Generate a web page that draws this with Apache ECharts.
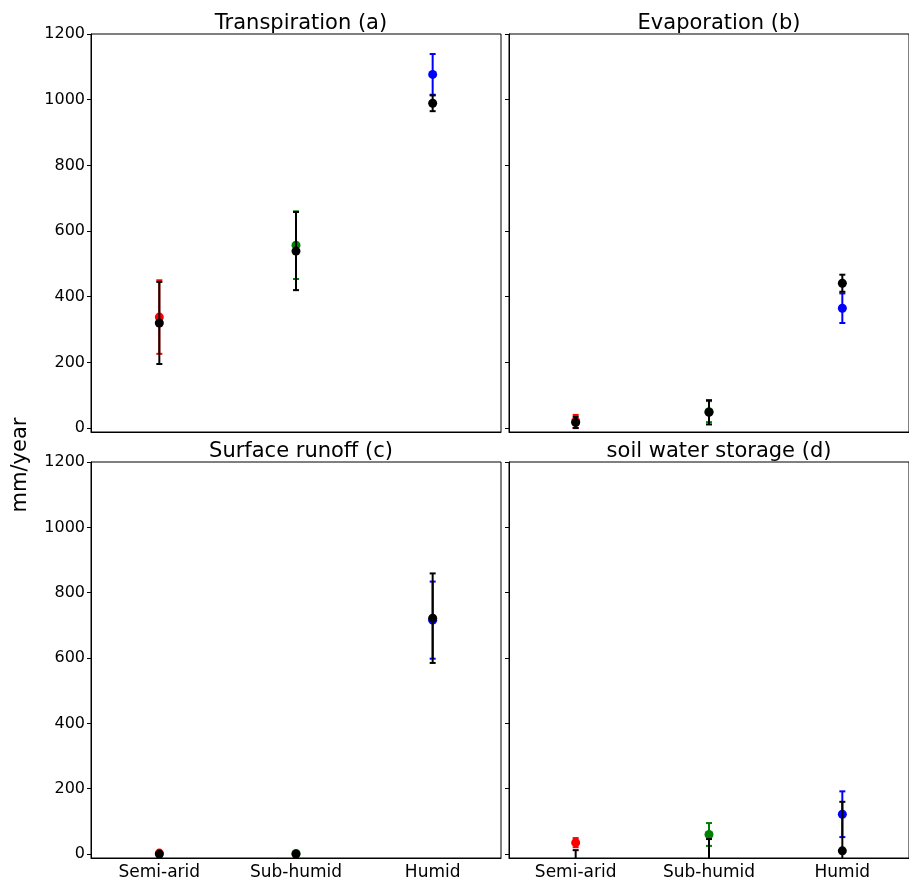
<!DOCTYPE html>
<html><head><meta charset="utf-8">
<script src="https://cdn.jsdelivr.net/npm/echarts@6/dist/echarts.min.js"></script>
<style>html,body{margin:0;padding:0;background:#fff}#c{width:909px;height:881px}</style>
</head><body><div id="c"></div>
<script>
const categories = ['Semi-arid', 'Sub-humid', 'Humid'];
const catColors = ['#ff0000', '#008000', '#0000ff'];
const yTicks = [0, 200, 400, 600, 800, 1000, 1200];
const panelTitles = ['Transpiration (a)', 'Evaporation (b)', 'Surface runoff (c)', 'soil water storage (d)'];

const transpModel = [338, 557, 1077];
const transpModelErr = [112, 103, 62];
const transpObs = [320, 539, 989];
const transpObsErr = [125, 119, 24];

const evapModel = [20, 50, 365];
const evapModelErr = [20, 32, 45];
const evapObs = [17, 48, 441];
const evapObsErr = [17, 37, 26];

const runoffModel = [3, 2, 716];
const runoffModelErr = [2, 2, 118];
const runoffObs = [0, 0, 722];
const runoffObsErr = [1, 1, 137];

const soilModel = [35, 60, 122];
const soilModelErr = [14, 35, 70];
const soilObs = [-18, -20, 10];
const soilObsErr = [30, 66, 150];

const panels = [
  [transpModel, transpModelErr, transpObs, transpObsErr],
  [evapModel, evapModelErr, evapObs, evapObsErr],
  [runoffModel, runoffModelErr, runoffObs, runoffObsErr],
  [soilModel, soilModelErr, soilObs, soilObsErr]
];

const grids = [
  {left: 91, top: 34, width: 410, height: 398},
  {left: 509, top: 34, width: 410, height: 398},
  {left: 91, top: 462, width: 410, height: 399},
  {left: 509, top: 462, width: 410, height: 399}
];
const FONT = 'DejaVu Sans';

const option = {
  animation: false,
  backgroundColor: '#fff',
  title: panelTitles.map((t, i) => ({
    text: t,
    left: grids[i].left + 205,
    top: grids[i].top - 26,
    textAlign: 'center',
    textStyle: {fontFamily: FONT, fontSize: 21, fontWeight: 'normal', color: '#000'}
  })),
  graphic: [{
    type: 'text', x: 21, y: 465, rotation: Math.PI / 2,
    style: {text: 'mm/year', fontFamily: FONT, fontSize: 21, fill: '#000', textAlign: 'center', textVerticalAlign: 'middle'}
  }],
  grid: grids.map(g => Object.assign({show: true, borderColor: '#000', borderWidth: 1, backgroundColor: 'transparent'}, g)),
  xAxis: grids.map((g, i) => ({
    type: 'category', gridIndex: i, data: categories, boundaryGap: true,
    axisLine: {onZero: false, lineStyle: {color: '#000'}},
    axisTick: {alignWithLabel: true, length: 4, lineStyle: {color: '#000'}},
    axisLabel: {show: i >= 2, fontFamily: FONT, fontSize: 17, color: '#000', margin: 6},
    splitLine: {show: false}
  })),
  yAxis: grids.map((g, i) => ({
    type: 'value', gridIndex: i, min: -12, max: 1200,
    axisLine: {show: true, onZero: false, lineStyle: {color: '#000'}},
    axisTick: {show: true, length: 4, customValues: yTicks, lineStyle: {color: '#000'}},
    axisLabel: {show: i % 2 === 0, customValues: yTicks, formatter: v => String(v),
      fontFamily: FONT, fontSize: 16, color: '#000', margin: 6},
    splitLine: {show: false}
  })),
  series: []
};

function errSeries(i, means, errs, colorFn, z) {
  return {
    type: 'custom', xAxisIndex: i, yAxisIndex: i, z: z, clip: true,
    data: means.map((m, k) => [k, m, errs[k]]),
    renderItem: function (params, api) {
      const x = api.value(0), m = api.value(1), e = api.value(2);
      const top = api.coord([x, m + e]);
      const bot = api.coord([x, m - e]);
      const col = colorFn(params.dataIndex);
      const st = {stroke: col, lineWidth: 2};
      return {
        type: 'group',
        children: [
          {type: 'line', shape: {x1: top[0], y1: top[1], x2: bot[0], y2: bot[1]}, style: st},
          {type: 'line', shape: {x1: top[0] - 3, y1: top[1], x2: top[0] + 3, y2: top[1]}, style: st},
          {type: 'line', shape: {x1: bot[0] - 3, y1: bot[1], x2: bot[0] + 3, y2: bot[1]}, style: st}
        ]
      };
    }
  };
}

panels.forEach((p, i) => {
  const [mod, modErr, obs, obsErr] = p;
  option.series.push(errSeries(i, mod, modErr, k => catColors[k], 2));
  option.series.push({
    type: 'scatter', xAxisIndex: i, yAxisIndex: i, z: 3, clip: true,
    symbolSize: 9,
    data: mod.map((v, k) => ({value: [k, v], itemStyle: {color: catColors[k], opacity: 1}}))
  });
  option.series.push(errSeries(i, obs, obsErr, k => '#000', 4));
  option.series.push({
    type: 'scatter', xAxisIndex: i, yAxisIndex: i, z: 5, clip: true,
    symbolSize: 9,
    itemStyle: {color: '#000', opacity: 1},
    data: obs.map((v, k) => [k, v])
  });
});

const chart = echarts.init(document.getElementById('c'), null, {renderer: 'canvas'});
chart.setOption(option);
</script>
</body></html>
